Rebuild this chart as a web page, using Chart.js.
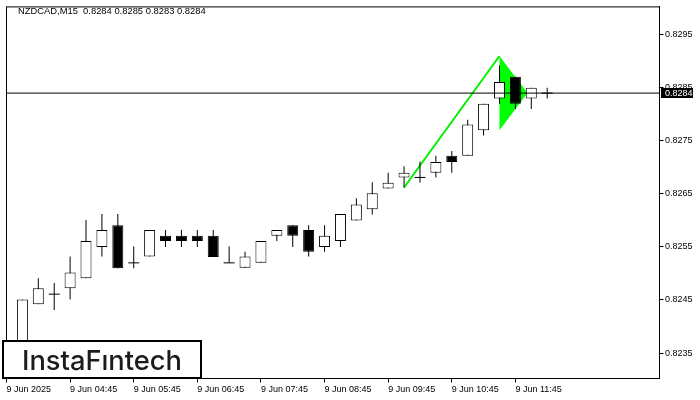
<!DOCTYPE html>
<html>
<head>
<meta charset="utf-8">
<script src="https://cdn.jsdelivr.net/npm/chart.js@4/dist/chart.umd.min.js"></script>
<style>
html,body{margin:0;padding:0;background:#fff;}
#wrap{width:700px;height:400px;position:relative;}
</style>
</head>
<body>
<div id="wrap"><canvas id="c" width="700" height="400"></canvas></div>
<script>
// ---- data ----
const chartTitle = 'NZDCAD,M15  0.8284 0.8285 0.8283 0.8284';
const logoText = 'InstaFıntech';
const xTickIdx = [0, 4, 8, 12, 16, 20, 24, 28, 32];
const xTickLabels = ['9 Jun 2025', '9 Jun 04:45', '9 Jun 05:45', '9 Jun 06:45', '9 Jun 07:45',
                     '9 Jun 08:45', '9 Jun 09:45', '9 Jun 10:45', '9 Jun 11:45'];
const yTicks = [0.8235, 0.8245, 0.8255, 0.8265, 0.8275, 0.8285, 0.8295];
const yTickLabels = ['0.8235', '0.8245', '0.8255', '0.8265', '0.8275', '0.8285', '0.8295'];

const opens  = [0.82318,0.82346,0.82442,0.82461,0.82472,0.82491,0.82550,0.82591,0.82520,0.82532,
                0.82571,0.82571,0.82571,0.82571,0.82520,0.82511,0.82520,0.82571,0.82591,0.82582,
                0.82550,0.82561,0.82600,0.82621,0.82660,0.82681,0.82681,0.82690,0.82722,0.82722,
                0.82770,0.82830,0.82871,0.82830,0.82840];
const highs  = [0.82402,0.82451,0.82491,0.82482,0.82532,0.82601,0.82612,0.82612,0.82551,0.82582,
                0.82582,0.82582,0.82582,0.82582,0.82551,0.82541,0.82561,0.82582,0.82591,0.82591,
                0.82591,0.82612,0.82642,0.82672,0.82690,0.82702,0.82711,0.82722,0.82731,0.82790,
                0.82820,0.82892,0.82871,0.82850,0.82850];
const lows   = [0.82305,0.82327,0.82442,0.82431,0.82451,0.82491,0.82532,0.82510,0.82510,0.82532,
                0.82550,0.82550,0.82550,0.82531,0.82520,0.82511,0.82520,0.82561,0.82550,0.82532,
                0.82541,0.82550,0.82600,0.82611,0.82660,0.82662,0.82671,0.82681,0.82690,0.82722,
                0.82760,0.82820,0.82810,0.82810,0.82830];
const closes = [0.82365,0.82451,0.82472,0.82461,0.82502,0.82561,0.82582,0.82510,0.82520,0.82582,
                0.82561,0.82561,0.82561,0.82531,0.82520,0.82532,0.82561,0.82582,0.82571,0.82541,
                0.82571,0.82612,0.82630,0.82651,0.82671,0.82690,0.82681,0.82710,0.82710,0.82781,
                0.82820,0.82861,0.82820,0.82850,0.82840];
const lastPrice = 0.8284;
const lastPriceLabel = '0.8284';
// bullish pennant: pole and flag triangle (bar index, price)
const poleX = [25, 31];
const poleY = [0.82662, 0.82910];
const flagX = [31, 32.76, 31, 31];
const flagY = [0.82910, 0.82840, 0.82770, 0.82910];

// ---- view range ----
const xMin = 0, xMax = 41.0625;
const yMin = 0.82302, yMax = 0.830025;

const idx = opens.map((_, i) => i);
const wickData = idx.map(i => ({x: i, y: [lows[i], highs[i]]}));
const bodyData = idx.filter(i => opens[i] !== closes[i]).map(i => ({x: i, y: [opens[i], closes[i]]}));
const dojiData = idx.filter(i => opens[i] === closes[i]).map(i => ({x: i, y: opens[i]}));
const poleData = poleX.map((x, k) => ({x, y: poleY[k]}));
const flagData = flagX.map((x, k) => ({x, y: flagY[k]}));
const priceLineData = [{x: xMin, y: lastPrice}, {x: xMax, y: lastPrice}];

const axisFont = {family: '"Liberation Sans", Arial, sans-serif', size: 9};

const overlay = {
  id: 'overlay',
  afterDraw(chart) {
    const {ctx, chartArea: a} = chart;
    const ys = chart.scales.y;
    ctx.save();
    // plot frame (top / left)
    ctx.strokeStyle = '#000';
    ctx.lineWidth = 1;
    ctx.strokeRect(a.left, a.top, a.right - a.left, a.bottom - a.top);
    // title
    ctx.fillStyle = '#000';
    ctx.font = '9.4px "Liberation Sans", Arial, sans-serif';
    ctx.textBaseline = 'alphabetic';
    ctx.textAlign = 'left';
    ctx.fillText(chartTitle, 18, 14);
    // last price label on the axis
    const py = ys.getPixelForValue(lastPrice);
    ctx.fillStyle = '#000';
    ctx.fillRect(a.right + 1.5, Math.round(py) - 5, 32, 10);
    ctx.fillStyle = '#fff';
    ctx.font = '9px "Liberation Sans", Arial, sans-serif';
    ctx.textBaseline = 'middle';
    ctx.fillText(lastPriceLabel, a.right + 5.5, py + 0.5);
    // logo box
    ctx.fillStyle = '#fff';
    ctx.fillRect(3, 341, 198, 37);
    ctx.lineWidth = 2;
    ctx.strokeStyle = '#000';
    ctx.strokeRect(3, 341, 198, 37);
    ctx.fillStyle = '#1c1c1c';
    ctx.textBaseline = 'alphabetic';
    let fs = 29;
    ctx.font = '500 ' + fs + 'px Inter, "Noto Sans", sans-serif';
    const w = ctx.measureText(logoText).width;
    fs = fs * 160 / w;
    ctx.font = '500 ' + fs.toFixed(2) + 'px Inter, "Noto Sans", sans-serif';
    ctx.fillText(logoText, 22, 369.5);
    ctx.restore();
  }
};

new Chart(document.getElementById('c'), {
  type: 'bar',
  data: {
    datasets: [
      {
        type: 'line', label: 'flag', data: flagData, order: 10,
        borderWidth: 0, borderColor: '#00ff00', backgroundColor: '#00ff00',
        fill: 'shape', pointRadius: 0, tension: 0
      },
      {
        type: 'line', label: 'pole', data: poleData, order: 9,
        borderWidth: 2, borderColor: '#00f000', fill: false, pointRadius: 0, tension: 0
      },
      {
        label: 'wick', data: wickData, order: 5, grouped: false,
        backgroundColor: '#000', borderWidth: 0, inflateAmount: 0,
        barPercentage: 1, categoryPercentage: 1, maxBarThickness: 1
      },
      {
        label: 'body', data: bodyData, order: 4, grouped: false,
        backgroundColor: c => (c.raw && closes[c.raw.x] > opens[c.raw.x]) ? '#ffffff' : '#000000',
        borderColor: '#000', borderWidth: 1, borderSkipped: false, inflateAmount: 0,
        barPercentage: 1, categoryPercentage: 1, maxBarThickness: 11
      },
      {
        type: 'line', label: 'doji', data: dojiData, order: 3, showLine: false,
        pointStyle: 'line', pointRadius: 5.5, pointBorderWidth: 1, pointBorderColor: '#000',
        pointHoverRadius: 5.5
      },
      {
        type: 'line', label: 'price', data: priceLineData, order: 1,
        borderWidth: 1, borderColor: '#000', pointRadius: 0, fill: false
      }
    ]
  },
  options: {
    responsive: false,
    animation: false,
    devicePixelRatio: 1,
    events: [],
    layout: {padding: {left: 2.5, top: 2.5, right: 0, bottom: 0}},
    plugins: {legend: {display: false}, tooltip: {enabled: false}, title: {display: false}},
    scales: {
      x: {
        type: 'linear', min: xMin, max: xMax, offset: false,
        grid: {display: true, drawOnChartArea: false, drawTicks: true, tickLength: 4, color: '#000', offset: false},
        border: {display: true, color: '#000', width: 1},
        ticks: {align: 'start', padding: 2, color: '#000', font: axisFont, autoSkip: false, maxRotation: 0,
                callback: (v, i) => xTickLabels[i]},
        afterBuildTicks: s => { s.ticks = xTickIdx.map(v => ({value: v})); },
        afterFit: s => { s.height = 21.5; }
      },
      y: {
        type: 'linear', position: 'right', min: yMin, max: yMax,
        grid: {display: true, drawOnChartArea: false, drawTicks: true, tickLength: 4, color: '#000'},
        border: {display: true, color: '#000', width: 1},
        ticks: {padding: 1.5, color: '#000', font: axisFont, autoSkip: false,
                callback: (v, i) => yTickLabels[i]},
        afterBuildTicks: s => { s.ticks = yTicks.map(v => ({value: v})); },
        afterFit: s => { s.width = 40.5; }
      }
    }
  },
  plugins: [overlay]
});
</script>
</body>
</html>
